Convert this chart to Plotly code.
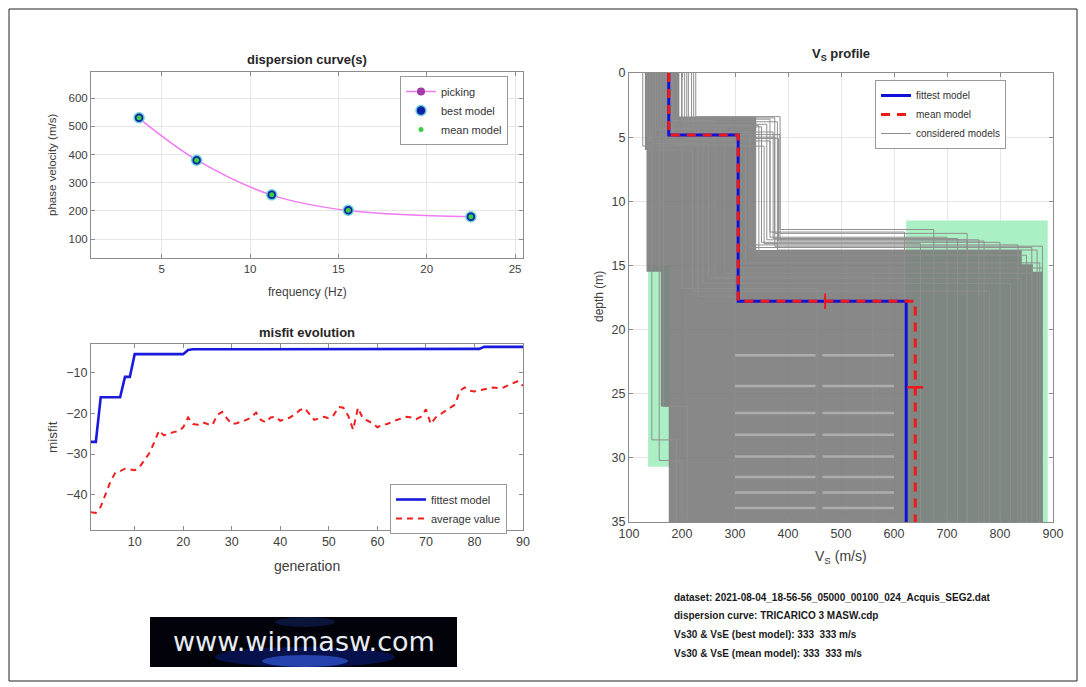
import plotly.graph_objects as go

# the page body has an 8 px margin: the figure div starts at (8, 8) in the window
OFF = 8
W, H = 1086 - OFF, 687 - OFF
def fx(x): return (x - OFF) / W
def fy(y): return 1 - (y - OFF) / H

FONT = "Liberation Sans, Arial, sans-serif"
AXC = "#8c8c8c"
TXC = "#404040"

# ---------------- dispersion curve data ----------------
freq = [3.72, 6.98, 11.23, 15.56, 22.5]
vel_pick = [529, 381, 256, 201, 179]
vel_best = [531, 380, 257, 202, 179]
vel_mean = [531, 380, 257, 202, 179]

# ---------------- misfit evolution data ----------------
generation = list(range(1, 91))
fittest = [-27, -27, -16, -16, -16, -16, -16, -11, -11, -5.4,
           -5.4, -5.4, -5.4, -5.4, -5.4, -5.4, -5.4, -5.4, -5.4, -5.4,
           -4.4, -4.2, -4.2, -4.2, -4.2, -4.2, -4.2, -4.2, -4.2, -4.2,
           -4.2, -4.2, -4.2, -4.2, -4.2, -4.2, -4.2, -4.2, -4.2, -4.2,
           -4.1, -4.1, -4.1, -4.1, -4.1, -4.1, -4.1, -4.1, -4.1, -4.1,
           -4.1, -4.1, -4.1, -4.1, -4.1, -4.1, -4.1, -4.1, -4.1, -4.1,
           -4.1, -4.1, -4.1, -4.1, -4.1, -4.1, -4.1, -4.1, -4.1, -4.1,
           -4.1, -4.1, -4.1, -4.1, -4.1, -4.1, -4.1, -4.1, -4.1, -4.1,
           -4.1, -3.6, -3.6, -3.6, -3.6, -3.6, -3.6, -3.6, -3.6, -3.6]
average = [-44.3, -44.5, -43.0, -40.0, -36.8, -34.6, -34.2, -33.6, -33.8, -34.0,
           -33.2, -31.6, -29.8, -27.2, -24.2, -25.4, -25.0, -24.6, -24.4, -23.4,
           -21.0, -22.6, -22.8, -22.2, -22.6, -22.9, -20.4, -19.6, -21.2, -22.6,
           -22.4, -22.0, -21.6, -21.0, -19.8, -21.6, -22.2, -21.0, -20.8, -21.8,
           -21.4, -21.0, -20.2, -19.2, -18.7, -20.2, -21.6, -21.2, -20.8, -21.2,
           -20.4, -18.4, -18.6, -20.6, -24.0, -18.6, -21.2, -21.8, -22.4, -23.4,
           -22.8, -22.6, -22.0, -21.6, -21.2, -20.8, -21.0, -21.4, -20.8, -19.0,
           -22.6, -21.0, -20.2, -19.4, -18.6, -17.8, -14.4, -13.6, -14.4, -14.6,
           -14.3, -14.0, -13.8, -13.6, -13.8, -13.6, -13.0, -12.6, -12.0, -13.2]

# ---------------- Vs profile data ----------------
max_depth = 35
fit_vs = [175, 306, 623]
fit_interfaces = [4.83, 17.8]
mean_vs = [175, 306, 640]
mean_interfaces = [4.83, 17.8]
err_depth_point = (470, 17.8, 0.6)     # v, depth, +-depth
err_vel_point = (640, 24.5, 15)        # v, depth, +-velocity

# envelope of the dense cloud of considered models
env_v = [130, 195, 195, 340, 340, 841, 841, 862, 862, 881, 881, 175, 175, 160, 160, 133, 133, 130]
env_d = [0, 0, 3.4, 3.4, 13.8, 13.8, 14.9, 14.9, 15.5, 15.5, 35, 35, 26, 26, 15.5, 15.5, 6.0, 6.0]

# individual considered models: v1, bottom1, v2, bottom2, v3
cm_v1 = [226, 218, 209, 199, 190, 180, 170, 160, 150, 140, 126, 200, 212, 185, 165, 155, 145, 175, 138, 145, 135, 160, 222, 205, 150, 168, 182]
cm_d1 = [3.4, 3.5, 3.6, 4.0, 4.2, 4.4, 4.6, 4.8, 5.0, 5.3, 5.7, 3.8, 4.1, 5.6, 5.2, 4.3, 5.5, 4.9, 6.0, 4.5, 5.0, 3.9, 4.6, 5.1, 4.4, 3.7, 5.4]
cm_v2 = [385, 375, 366, 360, 350, 338, 328, 385, 375, 366, 355, 380, 345, 320, 300, 280, 250, 240, 220, 143, 157, 165, 372, 382, 200, 262, 230]
cm_d2 = [12.2, 12.5, 12.8, 13.0, 13.2, 13.4, 13.6, 13.0, 13.5, 12.4, 13.3, 13.8, 14.2, 14.8, 15.2, 15.6, 16.0, 16.4, 17.0, 28.6, 30.2, 26.0, 12.9, 13.1, 16.8, 15.9, 17.4]
cm_v3 = [675, 738, 700, 760, 800, 834, 860, 738, 880, 620, 650, 870, 850, 875, 880, 860, 840, 820, 780, 190, 200, 210, 720, 770, 455, 560, 300]

# lighter streaks inside the half-space cloud
streak_depths = [22.0, 24.4, 26.5, 28.2, 29.9, 31.5, 32.7, 33.9]
streak_v_a = (300, 452)
streak_v_b = (465, 600)

# search-space (green) patches
green_v0 = [623, 136]
green_v1 = [890, 177]
green_d0 = [11.5, 15.0]
green_d1 = [35, 30.7]

# axis tick values
disp_xticks = [5, 10, 15, 20, 25]
disp_yticks = [100, 200, 300, 400, 500, 600]
mis_xticks = [10, 20, 30, 40, 50, 60, 70, 80, 90]
mis_yticks = [-40, -30, -20, -10]
vs_xticks = [100, 200, 300, 400, 500, 600, 700, 800, 900]
vs_yticks = [0, 5, 10, 15, 20, 25, 30, 35]

info_lines = [
    "dataset: 2021-08-04_18-56-56_05000_00100_024_Acquis_SEG2.dat",
    "dispersion curve: TRICARICO 3 MASW.cdp",
    "Vs30 & VsE (best model): 333  333 m/s",
    "Vs30 & VsE (mean model): 333  333 m/s",
]


def step_profile(vs, interfaces, bottom):
    v, d = [], []
    tops = [0] + list(interfaces)
    bots = list(interfaces) + [bottom]
    for vi, t, b in zip(vs, tops, bots):
        v += [vi, vi]
        d += [t, b]
    return v, d


fig = go.Figure()

# ---- dispersion ----
fig.add_trace(go.Scatter(x=freq, y=vel_pick, mode="lines+markers", name="picking",
                         line=dict(color="#f07af0", width=1.5, shape="spline"),
                         marker=dict(color="#a33aa8", size=8),
                         xaxis="x", yaxis="y", legend="legend"))
fig.add_trace(go.Scatter(x=freq, y=vel_best, mode="markers", name="best model",
                         marker=dict(color="#0b1fa8", size=10, line=dict(color="#69d0d6", width=1.5)),
                         xaxis="x", yaxis="y", legend="legend"))
fig.add_trace(go.Scatter(x=freq, y=vel_mean, mode="markers", name="mean model",
                         marker=dict(color="#3ccf45", size=5),
                         xaxis="x", yaxis="y", legend="legend"))

# ---- misfit ----
fig.add_trace(go.Scatter(x=generation, y=fittest, mode="lines", name="fittest model",
                         line=dict(color="#1a1adf", width=2.6),
                         xaxis="x2", yaxis="y2", legend="legend2"))
fig.add_trace(go.Scatter(x=generation, y=average, mode="lines", name="average value",
                         line=dict(color="#f02020", width=2, dash="6px,5px"),
                         xaxis="x2", yaxis="y2", legend="legend2"))

# ---- Vs profile ----
for v0, v1, d0, d1 in zip(green_v0, green_v1, green_d0, green_d1):
    fig.add_trace(go.Scatter(x=[v0, v1, v1, v0, v0], y=[d0, d0, d1, d1, d0], mode="lines",
                             fill="toself", fillcolor="#aaf0c4", line=dict(width=0),
                             hoverinfo="skip", showlegend=False, xaxis="x3", yaxis="y3"))

fig.add_trace(go.Scatter(x=env_v, y=env_d, mode="lines", fill="toself",
                         fillcolor="rgba(120,120,120,0.88)", line=dict(width=0),
                         hoverinfo="skip", showlegend=False, xaxis="x3", yaxis="y3"))

cm_x, cm_y = [], []
for a, b, c, d, e in zip(cm_v1, cm_d1, cm_v2, cm_d2, cm_v3):
    v, dd = step_profile([a, c, e], [b, d], max_depth)
    cm_x += v + [None]
    cm_y += dd + [None]
fig.add_trace(go.Scatter(x=cm_x, y=cm_y, mode="lines", name="considered models",
                         line=dict(color="#8f8f8f", width=1), hoverinfo="skip",
                         legendrank=3, xaxis="x3", yaxis="y3", legend="legend3"))

sx, sy = [], []
for dpt in streak_depths:
    sx += [streak_v_a[0], streak_v_a[1], None, streak_v_b[0], streak_v_b[1], None]
    sy += [dpt, dpt, None, dpt, dpt, None]
fig.add_trace(go.Scatter(x=sx, y=sy, mode="lines", line=dict(color="#adadad", width=2.5),
                         hoverinfo="skip", showlegend=False, xaxis="x3", yaxis="y3"))

fv, fd = step_profile(fit_vs, fit_interfaces, max_depth)
mv, md = step_profile(mean_vs, mean_interfaces, max_depth)
fig.add_trace(go.Scatter(x=fv, y=fd, mode="lines", name="fittest model",
                         line=dict(color="#1010d8", width=3), legendrank=1,
                         xaxis="x3", yaxis="y3", legend="legend3"))
fig.add_trace(go.Scatter(x=mv, y=md, mode="lines", name="mean model",
                         line=dict(color="#f01818", width=3, dash="9px,7px"), legendrank=2,
                         xaxis="x3", yaxis="y3", legend="legend3"))
fig.add_trace(go.Scatter(x=[err_depth_point[0]], y=[err_depth_point[1]], mode="markers",
                         marker=dict(size=1, color="rgba(0,0,0,0)"),
                         error_y=dict(type="data", array=[err_depth_point[2]], color="#f01818",
                                      thickness=2, width=0),
                         showlegend=False, xaxis="x3", yaxis="y3"))
fig.add_trace(go.Scatter(x=[err_vel_point[0]], y=[err_vel_point[1]], mode="markers",
                         marker=dict(size=1, color="rgba(0,0,0,0)"),
                         error_x=dict(type="data", array=[err_vel_point[2]], color="#f01818",
                                      thickness=2.5, width=0),
                         showlegend=False, xaxis="x3", yaxis="y3"))


def axis(size, **kw):
    d = dict(showline=True, mirror="ticks", linecolor=AXC, linewidth=1,
             ticks="inside", ticklen=4, tickcolor=AXC, zeroline=False, automargin=False,
             tickfont=dict(family=FONT, color=TXC, size=size))
    d.update(kw)
    return d


fig.update_layout(
    width=W, height=H, margin=dict(l=0, r=0, t=0, b=0, autoexpand=False),
    paper_bgcolor="white", plot_bgcolor="white",
    font=dict(family=FONT, color=TXC),
    xaxis=axis(11.5, domain=[fx(91), fx(523)], range=[1, 25.45], tickvals=disp_xticks,
               showgrid=True, gridcolor="#e6e6e6", anchor="y"),
    yaxis=axis(11.5, domain=[fy(258), fy(72)], range=[32.5, 693.5], tickvals=disp_yticks,
               showgrid=True, gridcolor="#e6e6e6", anchor="x"),
    xaxis2=axis(12.5, domain=[fx(91), fx(523)], range=[1, 90], tickvals=mis_xticks,
                showgrid=False, anchor="y2"),
    yaxis2=axis(12.5, domain=[fy(530), fy(344)], range=[-48.7, -2.9], tickvals=mis_yticks,
                showgrid=False, anchor="x2"),
    xaxis3=axis(12.5, domain=[fx(629), fx(1053)], range=[100, 900], tickvals=vs_xticks,
                showgrid=True, gridcolor="#e6e6e6", anchor="y3"),
    yaxis3=axis(12.5, domain=[fy(522), fy(73)], range=[35, 0], tickvals=vs_yticks,
                showgrid=True, gridcolor="#e6e6e6", anchor="x3"),
    legend=dict(x=fx(400), y=fy(76), xanchor="left", yanchor="top",
                bgcolor="white", bordercolor="#9a9a9a", borderwidth=1,
                font=dict(family=FONT, size=11, color="#333"), tracegroupgap=0,
                itemwidth=30),
    legend2=dict(x=fx(390), y=fy(484), xanchor="left", yanchor="top",
                 bgcolor="white", bordercolor="#9a9a9a", borderwidth=1,
                 font=dict(family=FONT, size=11, color="#333"), itemwidth=30),
    legend3=dict(x=fx(875), y=fy(80), xanchor="left", yanchor="top",
                 bgcolor="white", bordercolor="#9a9a9a", borderwidth=1,
                 font=dict(family=FONT, size=10, color="#333"), itemwidth=30),
)

ann = []
def text(x, y, s, size, bold=False, angle=0, xanchor="center", color="#262626"):
    ann.append(dict(x=fx(x), y=fy(y), xref="paper", yref="paper", text=(f"<b>{s}</b>" if bold else s),
                    showarrow=False, textangle=angle, xanchor=xanchor, yanchor="middle",
                    font=dict(family=FONT, size=size, color=color)))

text(307, 60, "dispersion curve(s)", 13, bold=True)
text(307, 292, "frequency (Hz)", 12, color=TXC)
text(52, 165, "phase velocity (m/s)", 11.5, angle=-90, color=TXC)
text(307, 332, "misfit evolution", 13, bold=True)
text(307, 566, "generation", 14, color=TXC)
text(52, 437, "misfit", 13.5, angle=-90, color=TXC)
text(841, 55, "V<sub>S</sub> profile", 13, bold=True)
text(841, 557, "V<sub>S</sub> (m/s)", 14, color=TXC)
text(599, 297, "depth (m)", 12, angle=-90, color=TXC)
for i, line in enumerate(info_lines):
    text(672, 597 + i * 18.7, line, 10, bold=True, xanchor="left", color="#1a1a1a")

# logo text
ann.append(dict(x=fx(304), y=fy(641), xref="paper", yref="paper", text="www.winmasw.com",
                showarrow=False, xanchor="center", yanchor="middle",
                font=dict(family="DejaVu Sans, sans-serif", size=27, color="#e6ecf6")))
fig.update_layout(annotations=ann)

shapes = [
    dict(type="rect", xref="paper", yref="paper", x0=fx(9), x1=fx(1077), y0=fy(681), y1=fy(9),
         line=dict(color="#222", width=1), fillcolor="rgba(0,0,0,0)", layer="below"),
    dict(type="rect", xref="paper", yref="paper", x0=fx(150), x1=fx(457), y0=fy(667), y1=fy(617),
         line=dict(width=0), fillcolor="#02030a", layer="above"),
    dict(type="circle", xref="paper", yref="paper", x0=fx(215), x1=fx(395), y0=fy(667), y1=fy(647),
         line=dict(width=0), fillcolor="rgba(20,50,230,0.30)", layer="above"),
    dict(type="circle", xref="paper", yref="paper", x0=fx(262), x1=fx(348), y0=fy(667), y1=fy(655),
         line=dict(width=0), fillcolor="rgba(60,110,255,0.55)", layer="above"),
    dict(type="circle", xref="paper", yref="paper", x0=fx(275), x1=fx(335), y0=fy(627), y1=fy(617),
         line=dict(width=0), fillcolor="rgba(40,70,200,0.25)", layer="above"),
]
fig.update_layout(shapes=shapes)

fig.write_html("out.html")
